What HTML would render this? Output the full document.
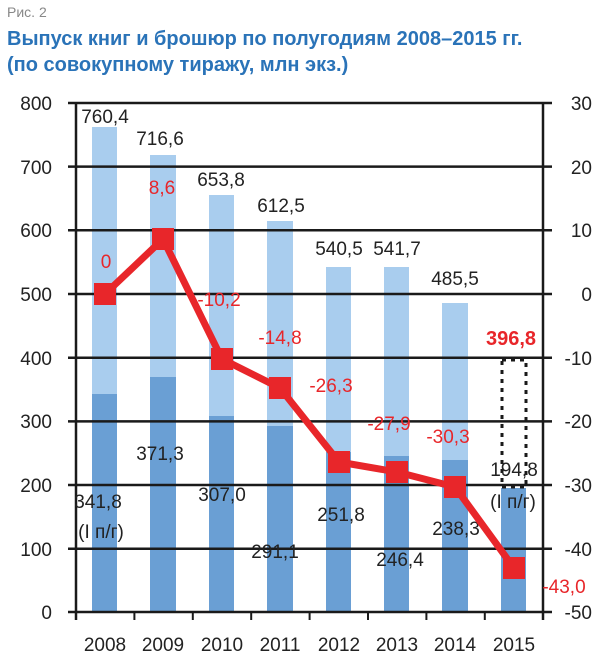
<!DOCTYPE html>
<html><head><meta charset="utf-8"><style>
html,body{margin:0;padding:0;background:#fff;width:600px;height:661px;overflow:hidden}
svg{display:block;font-family:"Liberation Sans","DejaVu Sans",sans-serif}
</style></head><body>
<svg width="600" height="661" viewBox="0 0 600 661" xmlns="http://www.w3.org/2000/svg">
<text x="7" y="17" font-size="14" fill="#888">Рис. 2</text>
<text x="7" y="45" font-size="20" font-weight="bold" fill="#2a73b8">Выпуск книг и брошюр по полугодиям 2008–2015 гг.</text>
<text x="7" y="71" font-size="20" font-weight="bold" fill="#2a73b8">(по совокупному тиражу, млн экз.)</text>
<g fill="#a9cdee">
<rect x="92" y="127" width="25" height="485"/>
<rect x="150" y="155" width="26" height="457"/>
<rect x="209" y="195" width="25" height="417"/>
<rect x="267" y="221" width="26" height="391"/>
<rect x="326" y="267" width="25" height="345"/>
<rect x="384" y="267" width="25" height="345"/>
<rect x="442" y="303" width="26" height="309"/>
</g>
<g fill="#6a9fd4">
<rect x="92" y="394" width="25" height="218"/>
<rect x="150" y="377" width="26" height="235"/>
<rect x="209" y="416" width="25" height="196"/>
<rect x="267" y="426" width="26" height="186"/>
<rect x="326" y="452" width="25" height="160"/>
<rect x="384" y="456" width="25" height="156"/>
<rect x="442" y="460" width="26" height="152"/>
<rect x="501" y="488" width="25" height="124"/>
</g>
<g stroke="#1a1a1a" stroke-width="2.5">
<line x1="68" y1="103" x2="552" y2="103"/>
<line x1="68" y1="166.6" x2="552" y2="166.6"/>
<line x1="68" y1="230.3" x2="552" y2="230.3"/>
<line x1="68" y1="294" x2="552" y2="294"/>
<line x1="68" y1="357.7" x2="552" y2="357.7"/>
<line x1="68" y1="421.4" x2="552" y2="421.4"/>
<line x1="68" y1="485" x2="552" y2="485"/>
<line x1="68" y1="548.7" x2="552" y2="548.7"/>
<line x1="68" y1="612" x2="552" y2="612"/>
<line x1="76" y1="103" x2="76" y2="620"/>
<line x1="543" y1="103" x2="543" y2="620"/>
</g>
<g stroke="#1a1a1a" stroke-width="2">
<line x1="134.4" y1="612" x2="134.4" y2="620"/><line x1="192.8" y1="612" x2="192.8" y2="620"/>
<line x1="251.2" y1="612" x2="251.2" y2="620"/><line x1="309.6" y1="612" x2="309.6" y2="620"/>
<line x1="368" y1="612" x2="368" y2="620"/><line x1="426.4" y1="612" x2="426.4" y2="620"/>
<line x1="484.8" y1="612" x2="484.8" y2="620"/>
</g>
<rect x="502" y="360" width="24" height="127" fill="none" stroke="#1a1a1a" stroke-width="3" stroke-dasharray="4,5"/>
<g font-size="19" fill="#222" text-anchor="end">
<text x="52" y="110">800</text><text x="52" y="174">700</text><text x="52" y="237">600</text>
<text x="52" y="301">500</text><text x="52" y="365">400</text><text x="52" y="428">300</text>
<text x="52" y="492">200</text><text x="52" y="556">100</text><text x="52" y="619">0</text>
</g>
<g font-size="19" fill="#222" text-anchor="end">
<text x="592" y="110">30</text><text x="592" y="174">20</text><text x="592" y="237">10</text>
<text x="592" y="301">0</text><text x="592" y="365">-10</text><text x="592" y="428">-20</text>
<text x="592" y="492">-30</text><text x="592" y="556">-40</text><text x="592" y="619">-50</text>
</g>
<g font-size="19" fill="#222" text-anchor="middle">
<text x="105" y="651">2008</text><text x="163" y="651">2009</text><text x="222" y="651">2010</text>
<text x="280" y="651">2011</text><text x="339" y="651">2012</text><text x="397" y="651">2013</text>
<text x="455" y="651">2014</text><text x="514" y="651">2015</text>
<text x="105" y="123">760,4</text><text x="160" y="145">716,6</text><text x="221" y="186">653,8</text>
<text x="281" y="212">612,5</text><text x="339" y="255">540,5</text><text x="397" y="255">541,7</text>
<text x="455" y="285">485,5</text>
<text x="98" y="508">341,8</text><text x="101" y="538">(I п/г)</text>
<text x="160" y="460">371,3</text><text x="222" y="501">307,0</text><text x="275" y="558">291,1</text>
<text x="341" y="521">251,8</text><text x="400" y="566">246,4</text><text x="456" y="535">238,3</text>
<text x="514" y="476">194,8</text><text x="513" y="508">(I п/г)</text>
</g>
<polyline points="105,294 163,239 222,359 280,388 339,462 397,472 455,487 514,568" fill="none" stroke="#e8262a" stroke-width="7" stroke-linejoin="round"/>
<g fill="#e8262a">
<rect x="94" y="283" width="22" height="22"/><rect x="152" y="228" width="22" height="22"/>
<rect x="211" y="348" width="22" height="22"/><rect x="269" y="377" width="22" height="22"/>
<rect x="328" y="451" width="22" height="22"/><rect x="386" y="461" width="22" height="22"/>
<rect x="444" y="476" width="22" height="22"/><rect x="503" y="557" width="22" height="22"/>
</g>
<g font-size="19" fill="#e8262a" text-anchor="middle">
<text x="106" y="268">0</text><text x="162" y="194">8,6</text><text x="219" y="306">-10,2</text>
<text x="280" y="344">-14,8</text><text x="331" y="392">-26,3</text><text x="389" y="430">-27,9</text>
<text x="448" y="443">-30,3</text><text x="564" y="593">-43,0</text>
<text x="511" y="345" font-weight="bold" font-size="20">396,8</text>
</g>
</svg>
</body></html>
